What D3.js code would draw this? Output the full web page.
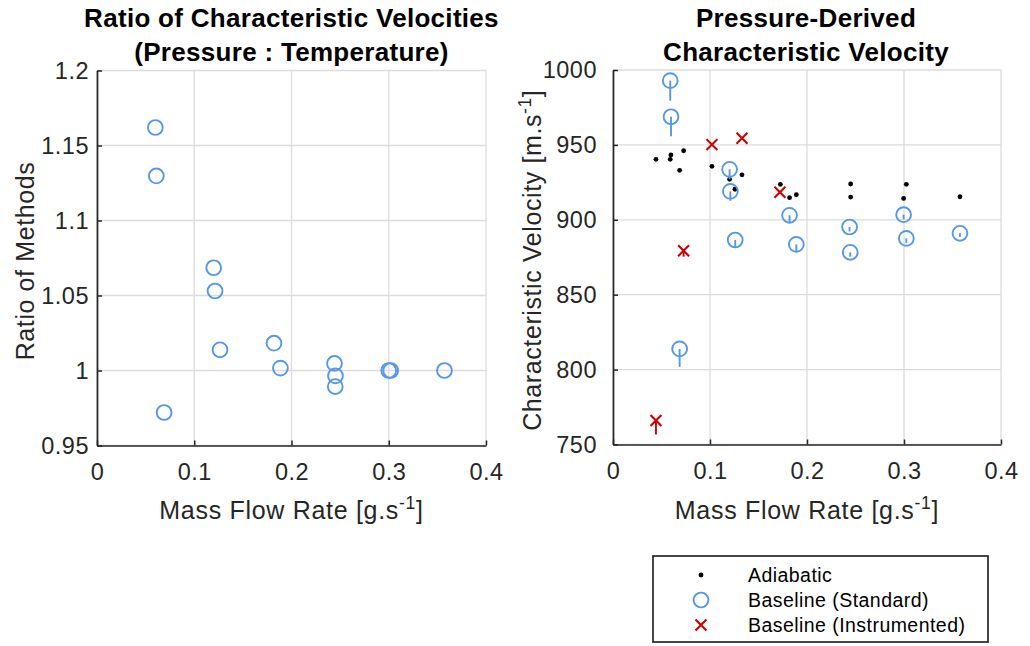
<!DOCTYPE html>
<html>
<head>
<meta charset="utf-8">
<script src="https://cdn.jsdelivr.net/npm/d3@7"></script>
<style>
  html, body { margin: 0; padding: 0; background: #fff; }
  svg { display: block; font-family: "Liberation Sans", Arial, Helvetica, sans-serif; }
</style>
</head>
<body>
<svg id="chart" width="1030" height="646"></svg>
<script>
// ---------- DATA ----------
// Left panel: ratio of characteristic velocities (pressure : temperature)
const ratioFlow  = [0.060, 0.061, 0.069, 0.120, 0.1214, 0.1265, 0.182, 0.1886, 0.2442, 0.2452, 0.245, 0.300, 0.302, 0.3573];
const ratioValue = [1.162, 1.1297, 0.972, 1.0685, 1.053, 1.0138, 1.0182, 1.0016, 1.0047, 0.9964, 0.9893, 1.000, 1.000, 1.000];

// Right panel: adiabatic
const adiaFlow  = [0.0443, 0.0597, 0.059, 0.0728, 0.0687, 0.102, 0.1202, 0.133, 0.1257, 0.1725, 0.182, 0.189, 0.245, 0.245, 0.3024, 0.2996, 0.3577];
const adiaVel   = [940.4, 943.3, 940.4, 946.1, 933.0, 935.7, 927.0, 930.0, 920.4, 923.7, 914.8, 916.8, 923.9, 915.2, 923.7, 914.3, 915.4];

// Right panel: baseline (standard) with lower error
const stdFlow   = [0.059, 0.0598, 0.0687, 0.1202, 0.121, 0.126, 0.182, 0.189, 0.2439, 0.2446, 0.2996, 0.3024, 0.3577];
const stdVel    = [992.9, 968.8, 813.8, 933.7, 919.0, 886.5, 903.0, 883.6, 895.2, 878.3, 903.4, 887.6, 891.0];
const stdErrLow = [13.4, 13.0, 12.0, 6.7, 6.3, 5.0, 5.0, 5.0, 3.0, 3.0, 3.0, 3.0, 2.5];

// Right panel: baseline (instrumented) with lower error
const insFlow   = [0.0443, 0.0728, 0.102, 0.133, 0.1721];
const insVel    = [766.0, 879.4, 950.2, 954.4, 918.4];
const insErrLow = [9.4, 4.0, 0, 0, 0];

// Ticks
const xTicks      = [0, 0.1, 0.2, 0.3, 0.4];
const xTickLabels = ["0", "0.1", "0.2", "0.3", "0.4"];
const ratioTicks  = [0.95, 1, 1.05, 1.1, 1.15, 1.2];
const ratioTickLabels = ["0.95", "1", "1.05", "1.1", "1.15", "1.2"];
const velTicks    = [750, 800, 850, 900, 950, 1000];
const velTickLabels = ["750", "800", "850", "900", "950", "1000"];

const legendLabels = ["Adiabatic", "Baseline (Standard)", "Baseline (Instrumented)"];

// ---------- STYLE ----------
const BLUE = "#5598e6";
const RED = "#cc0000";
const AXIS = "#262626";
const GRID = "#dcdcdc";
const TICK_FS = 23.5, LABEL_FS = 25, TITLE_FS = 26, LEG_FS = 19.5;

const svg = d3.select("#chart");

function panel(opts) {
  const x = d3.scaleLinear().domain([0, 0.4]).range([opts.x0, opts.x1]);
  const y = d3.scaleLinear().domain(opts.yDomain).range([opts.yb, opts.yt]);
  const g = svg.append("g");

  // grid
  g.append("g").selectAll("line").data(xTicks).join("line")
    .attr("x1", d => x(d)).attr("x2", d => x(d))
    .attr("y1", opts.yb).attr("y2", opts.yt)
    .attr("stroke", GRID).attr("stroke-width", 1.3);
  g.append("g").selectAll("line").data(opts.yTicks).join("line")
    .attr("y1", d => y(d)).attr("y2", d => y(d))
    .attr("x1", opts.x0).attr("x2", opts.x1)
    .attr("stroke", GRID).attr("stroke-width", 1.3);

  // axes with inward ticks
  const xAxis = d3.axisBottom(x).tickValues(xTicks)
    .tickFormat((d, i) => xTickLabels[i]).tickSizeInner(-5).tickSizeOuter(0).tickPadding(17.5);
  const xa = g.append("g").attr("transform", `translate(0,${opts.yb})`).call(xAxis);
  const yAxis = d3.axisLeft(y).tickValues(opts.yTicks)
    .tickFormat((d, i) => opts.yTickLabels[i]).tickSizeInner(-5).tickSizeOuter(0).tickPadding(opts.yPad);
  const ya = g.append("g").attr("transform", `translate(${opts.x0},0)`).call(yAxis);
  [xa, ya].forEach(a => {
    a.select(".domain").attr("stroke", AXIS).attr("stroke-width", 1.7);
    a.selectAll(".tick line").attr("stroke", AXIS).attr("stroke-width", 1.5);
    a.selectAll(".tick text").attr("fill", AXIS).attr("font-size", TICK_FS)
      .attr("letter-spacing", 0.5)
      .attr("font-family", "'Liberation Sans', Arial, sans-serif");
  });
  xa.selectAll(".tick text").attr("dy", "0.71em");

  // x label
  const xl = g.append("text").attr("x", (opts.x0 + opts.x1) / 2).attr("y", 519)
    .attr("text-anchor", "middle").attr("fill", AXIS).attr("font-size", LABEL_FS)
    .attr("letter-spacing", 0.7);
  xl.append("tspan").text("Mass Flow Rate [g.s");
  xl.append("tspan").text("-1").attr("font-size", LABEL_FS * 0.7).attr("dy", -10);
  xl.append("tspan").text("]").attr("dy", 10);

  // y label
  const yl = g.append("text")
    .attr("transform", `translate(${opts.ylx},${(opts.yb + opts.yt) / 2 + 3}) rotate(-90)`)
    .attr("text-anchor", "middle").attr("fill", AXIS).attr("font-size", LABEL_FS)
    .attr("letter-spacing", 0.6);
  opts.ylabel(yl);

  // title
  opts.title.forEach((t, i) => {
    g.append("text").attr("x", opts.titleX).attr("y", 27 + i * 34)
      .attr("text-anchor", "middle").attr("font-weight", "bold")
      .attr("letter-spacing", 0.3)
      .attr("font-size", TITLE_FS).attr("fill", "#000").text(t);
  });
  return { x, y, g };
}

// ---------- LEFT PANEL ----------
const L = panel({
  x0: 97, x1: 486, yb: 445.5, yt: 70.5,
  yDomain: [0.95, 1.2], yTicks: ratioTicks, yTickLabels: ratioTickLabels, yPad: 8,
  ylx: 34,
  ylabel: t => t.text("Ratio of Methods"),
  title: ["Ratio of Characteristic Velocities", "(Pressure : Temperature)"],
  titleX: 291.5
});
L.g.append("g").selectAll("circle").data(ratioFlow).join("circle")
  .attr("cx", d => L.x(d)).attr("cy", (d, i) => L.y(ratioValue[i]))
  .attr("r", 7.4).attr("fill", "none").attr("stroke", BLUE).attr("stroke-width", 1.9);

// ---------- RIGHT PANEL ----------
const R = panel({
  x0: 613, x1: 1001, yb: 444.5, yt: 70,
  yDomain: [750, 1000], yTicks: velTicks, yTickLabels: velTickLabels, yPad: 16,
  ylx: 541,
  ylabel: t => {
    t.append("tspan").text("Characteristic Velocity [m.s");
    t.append("tspan").text("-1").attr("font-size", LABEL_FS * 0.7).attr("dy", -10);
    t.append("tspan").text("]").attr("dy", 10);
  },
  title: ["Pressure-Derived", "Characteristic Velocity"],
  titleX: 806
});

// adiabatic dots
R.g.append("g").selectAll("circle").data(adiaFlow).join("circle")
  .attr("cx", d => R.x(d)).attr("cy", (d, i) => R.y(adiaVel[i]))
  .attr("r", 2.4).attr("fill", "#000");

// standard: error bars then circles
R.g.append("g").selectAll("line").data(stdFlow).join("line")
  .attr("x1", d => R.x(d)).attr("x2", d => R.x(d))
  .attr("y1", (d, i) => R.y(stdVel[i])).attr("y2", (d, i) => R.y(stdVel[i] - stdErrLow[i]))
  .attr("stroke", BLUE).attr("stroke-width", 1.9);
R.g.append("g").selectAll("circle").data(stdFlow).join("circle")
  .attr("cx", d => R.x(d)).attr("cy", (d, i) => R.y(stdVel[i]))
  .attr("r", 7.4).attr("fill", "none").attr("stroke", BLUE).attr("stroke-width", 1.9);

// instrumented: error bars then crosses
R.g.append("g").selectAll("line").data(insFlow).join("line")
  .attr("x1", d => R.x(d)).attr("x2", d => R.x(d))
  .attr("y1", (d, i) => R.y(insVel[i])).attr("y2", (d, i) => R.y(insVel[i] - insErrLow[i]))
  .attr("stroke", RED).attr("stroke-width", 1.9);
const cross = d3.symbol().type(d3.symbolX).size(80);
R.g.append("g").selectAll("path").data(insFlow).join("path")
  .attr("transform", (d, i) => `translate(${R.x(d)},${R.y(insVel[i])})`)
  .attr("d", cross).attr("fill", "none").attr("stroke", RED).attr("stroke-width", 2.1);

// ---------- LEGEND ----------
const lg = svg.append("g");
lg.append("rect").attr("x", 653).attr("y", 556).attr("width", 335).attr("height", 86)
  .attr("fill", "#fff").attr("stroke", AXIS).attr("stroke-width", 1.7);
const rowY = [575, 600, 625];
lg.append("circle").attr("cx", 701).attr("cy", rowY[0]).attr("r", 2.4).attr("fill", "#000");
lg.append("circle").attr("cx", 701).attr("cy", rowY[1]).attr("r", 7.4)
  .attr("fill", "none").attr("stroke", BLUE).attr("stroke-width", 1.9);
lg.append("path").attr("transform", `translate(701,${rowY[2]})`).attr("d", cross)
  .attr("fill", "none").attr("stroke", RED).attr("stroke-width", 2.1);
lg.selectAll("text.leg").data(legendLabels).join("text").attr("class", "leg")
  .attr("x", 748).attr("y", (d, i) => rowY[i]).attr("dy", "0.35em")
  .attr("letter-spacing", 0.45)
  .attr("font-size", LEG_FS).attr("fill", "#000").text(d => d);
</script>
</body>
</html>
